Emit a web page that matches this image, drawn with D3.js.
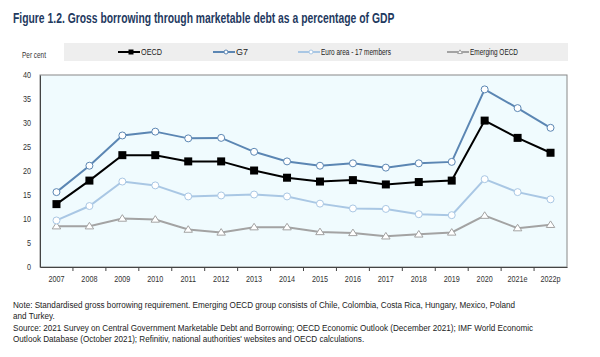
<!DOCTYPE html>
<html><head><meta charset="utf-8">
<script src="https://cdn.jsdelivr.net/npm/d3@7"></script>
<style>
body{margin:0;background:#fff;}
svg{display:block;font-family:"Liberation Sans",Arial,sans-serif;}
</style></head>
<body>
<svg id="c" width="600" height="357"></svg>
<script>
const categories = ["2007","2008","2009","2010","2011","2012","2013","2014","2015","2016","2017","2018","2019","2020","2021e","2022p"];
const oecd     = [13.1,18.0,23.3,23.3,22.0,22.0,20.1,18.6,17.8,18.1,17.2,17.7,18.0,30.5,26.9,23.8];
const g7       = [15.6,21.1,27.4,28.2,26.8,26.9,24.0,22.0,21.1,21.6,20.7,21.6,21.9,37.0,33.1,29.0];
const euro     = [9.7,12.7,17.8,17.0,14.7,14.9,15.1,14.7,13.2,12.2,12.1,11.0,10.8,18.3,15.6,14.1];
const emerging = [8.5,8.5,10.1,9.9,7.8,7.2,8.3,8.3,7.3,7.1,6.4,6.8,7.2,10.7,8.1,8.8];
const seriesNames = ["OECD","G7","Euro area - 17 members","Emerging OECD"];
const yTicks = [0,5,10,15,20,25,30,35,40];
const title = "Figure 1.2. Gross borrowing through marketable debt as a percentage of GDP";
const noteLines = [
 "Note: Standardised gross borrowing requirement. Emerging OECD group consists of Chile, Colombia, Costa Rica, Hungary, Mexico, Poland",
 "and Turkey.",
 "Source: 2021 Survey on Central Government Marketable Debt and Borrowing; OECD Economic Outlook (December 2021); IMF World Economic",
 "Outlook Database (October 2021); Refinitiv, national authorities' websites and OECD calculations."
];

const svg = d3.select("#c");
const L=40, R=567, T=75, B=267;

function squeeze(sel, ratio){
  sel.each(function(){
    const w = this.getComputedTextLength();
    d3.select(this).attr("textLength", w*ratio).attr("lengthAdjust","spacingAndGlyphs");
  });
  return sel;
}

// title, horizontally condensed via transform
const tt = svg.append("text").attr("x",0).attr("y",0).attr("fill","#1f3a5f")
  .attr("font-size",14).attr("font-weight","bold").text(title);
const tr = 382/tt.node().getComputedTextLength();
tt.attr("transform",`translate(13,23) scale(${tr},1)`);

// legend box
svg.append("rect").attr("x",64).attr("y",43).attr("width",504).attr("height",18).attr("fill","#eeeeee");
svg.append("text").attr("x",22).attr("y",58).attr("font-size",8.5).attr("fill","#333")
  .attr("textLength",24).attr("lengthAdjust","spacingAndGlyphs").text("Per cent");

const x = d3.scaleBand().domain(categories).range([L,R]);
const y = d3.scaleLinear().domain([0,40]).range([B,T]);

svg.append("rect").attr("x",L).attr("y",T).attr("width",R-L).attr("height",B-T)
  .attr("fill","#f0fbfe").attr("stroke","#888").attr("stroke-width",1);

const series = [
  {name:seriesNames[0], data:oecd, color:"#000000", marker:"square", width:2},
  {name:seriesNames[1], data:g7, color:"#5b86b3", marker:"circle", width:2},
  {name:seriesNames[2], data:euro, color:"#a9c7e4", marker:"circle", width:2},
  {name:seriesNames[3], data:emerging, color:"#a3a3a3", marker:"triangle", width:2}
];

const cx = d => x(d)+x.bandwidth()/2;
const line = d3.line().x((d,i)=>cx(categories[i])).y(d=>y(d));

function marker(g, type, color, px, py, s){
  if(type==="square"){
    g.append("rect").attr("x",px-s).attr("y",py-s).attr("width",2*s).attr("height",2*s).attr("fill","#000");
  } else if(type==="circle"){
    g.append("circle").attr("cx",px).attr("cy",py).attr("r",s).attr("fill","#fff").attr("stroke",color).attr("stroke-width",1);
  } else {
    const h=s*1.1;
    g.append("path").attr("d",`M${px},${py-h}L${px+h*1.1},${py+h*0.7}L${px-h*1.1},${py+h*0.7}Z`)
      .attr("fill","#fff").attr("stroke",color).attr("stroke-width",1);
  }
}

[...series].reverse().forEach(s=>{
  const g = svg.append("g");
  g.append("path").datum(s.data).attr("d",line).attr("fill","none").attr("stroke",s.color).attr("stroke-width",s.width);
  s.data.forEach((v,i)=>marker(g,s.marker,s.color,cx(categories[i]),y(v),s.marker==="square"?4:3.5));
});

// axes
const yAxis = d3.axisLeft(y).tickValues(yTicks).tickSize(0).tickPadding(9);
const ya = svg.append("g").attr("transform",`translate(${L},0)`).call(yAxis);
ya.select(".domain").attr("stroke","#444");
squeeze(ya.selectAll("text").attr("font-size",8.5).attr("fill","#333").attr("font-family","inherit"),0.85);

const xAxis = d3.axisBottom(x).tickSize(0).tickPadding(9);
const xa = svg.append("g").attr("transform",`translate(0,${B})`).call(xAxis);
xa.select(".domain").attr("stroke","#444");
squeeze(xa.selectAll("text").attr("font-size",8.5).attr("fill","#333").attr("font-family","inherit"),0.85);
categories.slice(1).forEach(c=>{
  xa.append("line").attr("x1",x(c)).attr("x2",x(c)).attr("y1",0).attr("y2",4).attr("stroke","#444");
});

// legend
const legX = [118,213,298,447];
const legW = [21,12,70,48];
series.forEach((s,i)=>{
  const g = svg.append("g");
  const lx = legX[i], ly=52;
  g.append("line").attr("x1",lx).attr("x2",lx+22).attr("y1",ly).attr("y2",ly).attr("stroke",s.color).attr("stroke-width",2);
  marker(g,s.marker,s.color,lx+13,ly,s.marker==="square"?2.5:2);
  g.append("text").attr("x",lx+23).attr("y",ly+3).attr("font-size",8.5).attr("fill","#222")
    .attr("textLength",legW[i]).attr("lengthAdjust","spacingAndGlyphs").text(s.name);
});

// notes, condensed via transform
const ny=[308,319,331,342];
let ratio = null;
noteLines.forEach((t,i)=>{
  const n = svg.append("text").attr("x",0).attr("y",0).attr("font-size",9.3).attr("fill","#222").text(t);
  if(ratio===null) ratio = 503/n.node().getComputedTextLength();
  n.attr("transform",`translate(13,${ny[i]}) scale(${ratio},1)`);
});
</script>
</body></html>
